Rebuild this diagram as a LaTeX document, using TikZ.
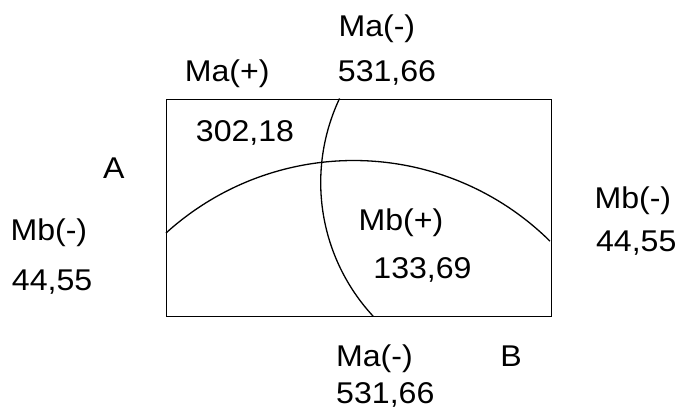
\documentclass[tikz,border=0pt]{standalone}
\usepackage{fontspec}
\setmainfont{Liberation Sans}
\begin{document}
\begin{tikzpicture}[x=1pt,y=-1pt,
  lbl/.style={font=\fontsize{30}{36}\selectfont, inner sep=0pt, anchor=base west, xscale=1.07},
  ln/.style={line width=1.3pt, black}]
\useasboundingbox (0,0) rectangle (677,415);
% slab outline
\node[draw, ln, minimum width=384.5pt, minimum height=217.5pt, inner sep=0pt, anchor=north west] (slab) at (166,98.5) {};
% moment curves
\draw[ln] plot[domain=132.25:45.33, samples=90, smooth] ({353.7+279.2*cos(\x)}, {439.7-279.2*sin(\x)});
\draw[ln] plot[domain=205.3:137.2, samples=90, smooth] ({517.4+196.7*cos(\x)}, {182.5+196.7*sin(\x)});
% labels
\node[lbl] (maT) at (338.3,36) {Ma(-)};
\node[lbl] (maTv) at (337.7,81.7) {531,66};
\node[lbl] (maP) at (184.6,81.7) {Ma(+)};
\node[lbl] (maPv) at (195.7,141.7) {302,18};
\node[lbl] (A) at (103,178.3) {A};
\node[lbl] (mbL) at (10.3,240) {Mb(-)};
\node[lbl] (mbLv) at (11.7,290) {44,55};
\node[lbl] (mbP) at (358.3,230) {Mb(+)};
\node[lbl] (mbPv) at (373.2,278.3) {133,69};
\node[lbl] (mbR) at (594.3,208.3) {Mb(-)};
\node[lbl] (mbRv) at (595.9,251.7) {44,55};
\node[lbl] (maB) at (335.9,366.7) {Ma(-)};
\node[lbl] (B) at (500.2,366.7) {B};
\node[lbl] (maBv) at (336,403.3) {531,66};
\end{tikzpicture}
\end{document}
